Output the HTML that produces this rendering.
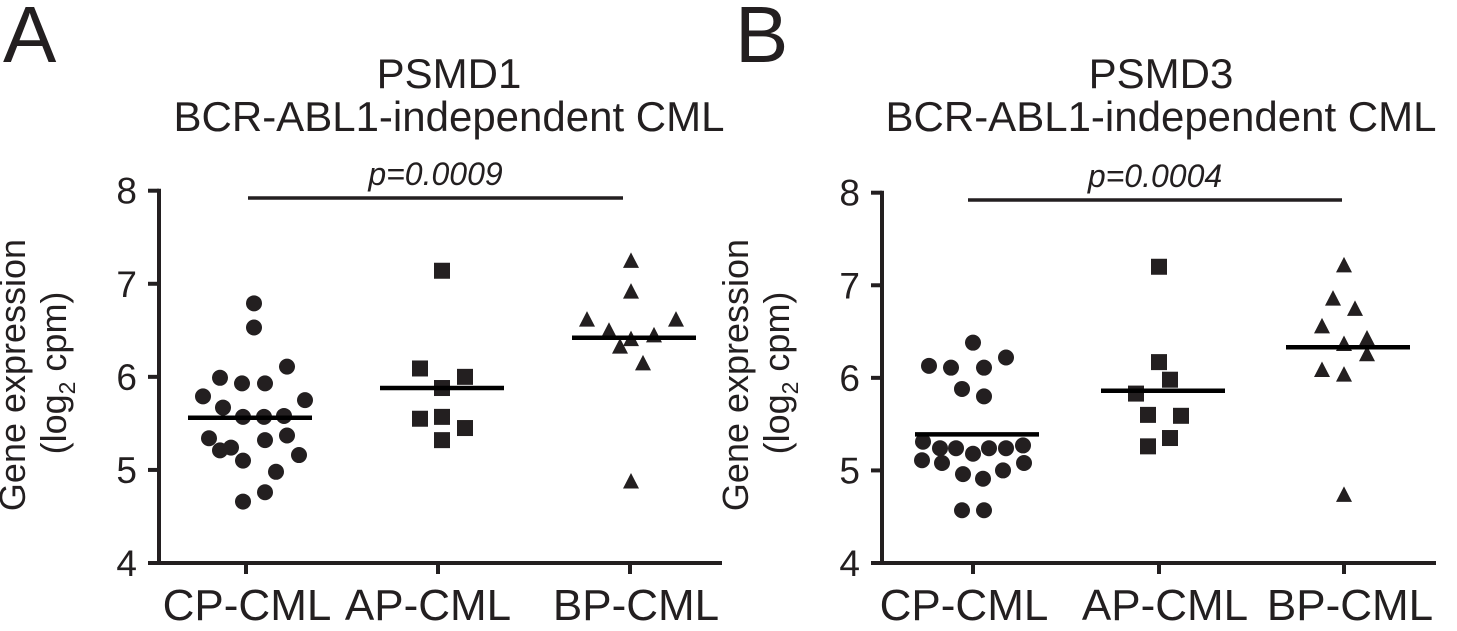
<!DOCTYPE html>
<html><head><meta charset="utf-8"><style>
html,body{margin:0;padding:0;background:#fff;}
svg{display:block;font-family:"Liberation Sans",Arial,sans-serif;}
</style></head><body>
<svg id="chart" width="1457" height="631" viewBox="0 0 1457 631" xmlns="http://www.w3.org/2000/svg">
<text x="3" y="62" font-size="80" fill="#231f20">A</text>
<text x="735" y="62" font-size="80" fill="#231f20">B</text>
</svg>
<script>
// ---- data: Panel A (PSMD1) ----
const categories = ["CP-CML", "AP-CML", "BP-CML"];
const yTicks = [4, 5, 6, 7, 8];
const aCP = [6.79,6.53,6.11,5.99,5.93,5.93,5.79,5.75,5.67,5.57,5.57,5.58,5.34,5.32,5.37,5.21,5.24,5.10,5.16,4.98,4.76,4.66];
const aAP = [7.14,6.09,6.00,5.88,5.55,5.57,5.45,5.32];
const aBP = [7.24,6.91,6.61,6.61,6.49,6.40,6.44,6.32,6.14,4.87];
const aLines = [5.56, 5.88, 6.42];
// ---- data: Panel B (PSMD3) ----
const bCP = [6.38,6.22,6.13,6.11,6.11,5.88,5.80,5.31,5.24,5.24,5.18,5.24,5.24,5.27,5.11,5.08,4.96,4.91,5.00,5.08,4.57,4.57];
const bAP = [7.20,6.17,5.98,5.83,5.60,5.59,5.35,5.26];
const bBP = [7.21,6.85,6.74,6.55,6.36,6.42,6.25,6.08,6.03,4.73];
const bLines = [5.39, 5.86, 6.33];
// jitter (px offsets, layout only)
const jA = [[8,8,41,-26,-4,19,-43,59,-23,-3,18,38,-37,19,41,-26,-15,-3,53,30,19,-3],[4,-18,27,4,-18,4,27,4],[1,1,-43,46,-21,1,24,-10,13,1]];
const jB = [[0,33,-44,-22,11,-11,11,-50,-33,-17,0,16,33,50,-51,-31,-10,10,30,51,-11,11],[0,0,11,-23,-11,22,11,-11],[0,-11,11,-22,0,23,23,-22,0,0]];

const svg = document.getElementById('chart');
const NS = "http://www.w3.org/2000/svg";
const C = "#231f20";
function mk(tag, attrs, parent){
  const e = document.createElementNS(NS, tag);
  for (const k in attrs) e.setAttribute(k, attrs[k]);
  (parent||svg).appendChild(e);
  return e;
}
function panel(o){
  const g = mk('g', {});
  
  
  const y = v => o.y4 + (v - 4) * (o.y8 - o.y4) / 4;
  const x = i => o.ax + o.cx[i];
  let t = mk('text', {x:o.tc, y:88, 'font-size':42, 'text-anchor':'middle', fill:C}, g);
  t.textContent = o.gene;
  
  
  t = mk('text', {x:o.tc, y:131, 'font-size':42, 'text-anchor':'middle', fill:C}, g);
  t.textContent = "BCR-ABL1-independent CML";
  
  
  let l = mk('line', {x1:o.ax, y1:y(8)-2, x2:o.ax, y2:y(4)+2, stroke:C, 'stroke-width':4}, g);
  
  
  yTicks.forEach(v => {
    const tk = mk('line', {x1:o.ax-11, y1:y(v), x2:o.ax, y2:y(v), stroke:C, 'stroke-width':4}, g);
    
    
    const tl = mk('text', {x:o.ax-22, y:y(v)+13, 'font-size':37, 'text-anchor':'end', fill:C}, g);
    tl.textContent = v;
    
    
  });
  const yt = mk('text', {transform:`translate(${o.ax-134},375) rotate(-90)`, 'font-size':36, 'text-anchor':'middle', fill:C}, g);
  yt.textContent = "Gene expression";
  
  
  const yt2 = mk('text', {transform:`translate(${o.ax-93},373) rotate(-90)`, 'font-size':36, 'text-anchor':'middle', fill:C}, g);
  yt2.innerHTML = '(log<tspan font-size="23" dy="9">2</tspan><tspan dy="-9"> cpm)</tspan>';
  
  
  l = mk('line', {x1:o.ax-2, y1:y(4), x2:o.ax+o.xend, y2:y(4), stroke:C, 'stroke-width':4}, g);
  
  
  categories.forEach((c, i) => {
    const tk = mk('line', {x1:x(i), y1:y(4), x2:x(i), y2:y(4)+11, stroke:C, 'stroke-width':4}, g);
    
    
    const tl = mk('text', {x:o.lx[i], y:620, 'font-size':44, 'text-anchor':'middle', fill:C}, g);
    tl.textContent = c;
    
    
  });
  l = mk('line', {x1:o.p1, y1:o.py, x2:o.p2, y2:o.py, stroke:C, 'stroke-width':3.5}, g);
  
  
  t = mk('text', {x:(o.p1+o.p2)/2, y:o.py-13, 'font-size':32, 'font-style':'italic', 'text-anchor':'middle', fill:C}, g);
  t.textContent = o.p;
  
  
  o.series.forEach((vals, i) => {
    vals.forEach((v, k) => {
      const px = x(i) + o.jit[i][k], py = y(v);
      let m;
      if (i === 0) m = mk('circle', {cx:px, cy:py, r:8, fill:C}, g);
      else if (i === 1) m = mk('rect', {x:px-8, y:py-8, width:16, height:16, fill:C}, g);
      else m = mk('polygon', {points:`${px},${py-9} ${px+8},${py+6.5} ${px-8},${py+6.5}`, fill:C}, g);
      
      
    });
    const ml = mk('line', {x1:x(i)+4-62, y1:y(o.lines[i]), x2:x(i)+4+62, y2:y(o.lines[i]), stroke:'#000', 'stroke-width':4.5}, g);
    
    
  });
}
panel({name:'panel-a-psmd1', gene:'PSMD1', tc:449, ax:159, y8:190.7, y4:563, cx:[87,279,471], lx:[247,428,636], xend:563,
  p1:248, p2:623, py:198, p:'p=0.0009', series:[aCP,aAP,aBP], lines:aLines, jit:jA});
panel({name:'panel-b-psmd3', gene:'PSMD3', tc:1161, ax:882, y8:192.7, y4:563, cx:[91,277,462], lx:[964,1165,1350], xend:554,
  p1:968, p2:1342, py:200, p:'p=0.0004', series:[bCP,bAP,bBP], lines:bLines, jit:jB});
</script>
</body></html>
